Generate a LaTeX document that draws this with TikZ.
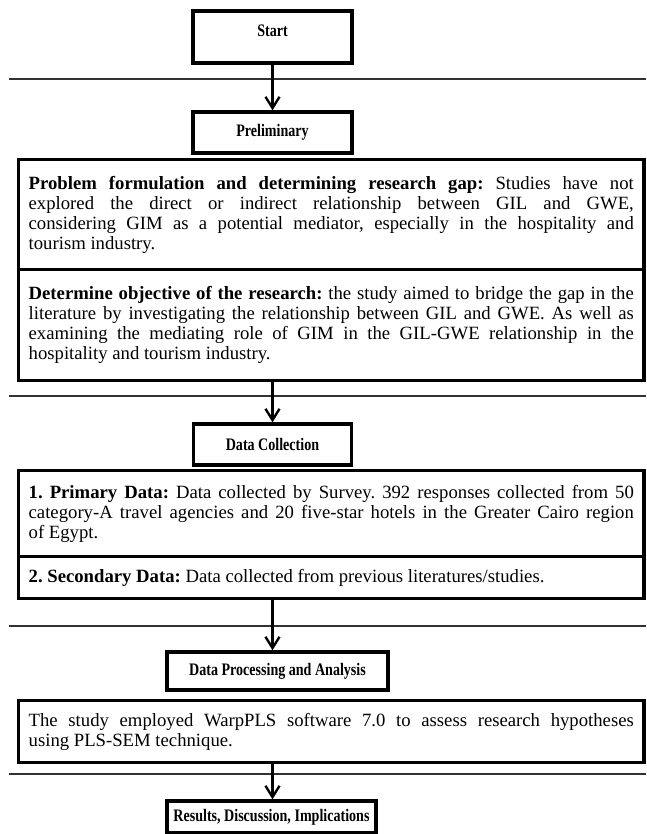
\documentclass[tikz,border=0pt]{standalone}
\usepackage{fontspec}
\setmainfont{Liberation Serif}
\newfontfamily\stagefont[FakeStretch=0.8]{Liberation Serif}
\usetikzlibrary{arrows.meta}
\hyphenpenalty=10000
\exhyphenpenalty=10000
\frenchspacing
\begin{document}
\begin{tikzpicture}[x=0.025cm,y=-0.025cm,
 stage/.style={draw,line width=2.4pt,inner sep=0pt,font=\stagefont\bfseries\fontsize{12.5}{14}\selectfont},
 detail/.style={draw,line width=2.4pt,anchor=north west,inner xsep=0.25cm,text width=15.125cm,align=justify,font=\fontsize{13.3}{14.3}\selectfont},
 flow/.style={line width=1.7pt,-{Straight Barb[length=8pt,width=10pt]}},
 sep/.style={line width=0.9pt,black!80}]
\useasboundingbox (0,0) rectangle (646,834);
 \foreach \y in {79,396,626,774} {
  \draw[sep] (9,\y) -- (646,\y);
 }
 \node[stage,minimum width=3.975cm,minimum height=1.3cm,text depth=0.33cm] (start) at (272.5,37) {Start};
 \node[stage,minimum width=3.975cm,minimum height=1.025cm] (prelim) at (272.5,132.5) {Preliminary};
 \node[detail,minimum height=2.75cm] (gap) at (17,158) {\textbf{Problem formulation and determining research gap:} Studies have not\linebreak explored the direct or indirect relationship between GIL and GWE,\linebreak considering GIM as a potential mediator, especially in the hospitality and\linebreak tourism industry.};
 \node[detail,minimum height=2.775cm] (objective) at (17,268) {\textbf{Determine objective of the research:} the study aimed to bridge the gap in the\linebreak literature by investigating the relationship between GIL and GWE. As well as\linebreak examining the mediating role of GIM in the GIL-GWE relationship in the\linebreak hospitality and tourism industry.};
 \node[stage,minimum width=3.95cm,minimum height=1.025cm] (dc) at (272.5,444.5) {Data Collection};
 \node[detail,minimum height=2.15cm] (primary) at (17,469) {\textbf{1. Primary Data:} Data collected by Survey. 392 responses collected from 50\linebreak category-A travel agencies and 20 five-star hotels in the Greater Cairo region\linebreak of Egypt.};
 \node[detail,minimum height=1.05cm] (secondary) at (17,555) {\textbf{2. Secondary Data:} Data collected from previous literatures/studies.};
 \node[stage,minimum width=5.525cm,minimum height=0.95cm] (dpa) at (277.5,671) {Data Processing and Analysis};
 \node[detail,minimum height=1.55cm] (warp) at (17,699) {The study employed WarpPLS software 7.0 to assess research hypotheses\linebreak using PLS-SEM technique.};
 \node[stage,minimum width=5.225cm,minimum height=0.8cm] (results) at (271.5,817) {Results, Discussion, Implications};

 \draw[flow] (start) -- (prelim);
 \draw[flow] (objective.south -| dc) -- (dc);
 \draw[flow] (secondary.south -| start) -- (dpa.north -| start);
 \draw[flow] (warp.south -| start) -- (results.north -| start);
\end{tikzpicture}
\end{document}
